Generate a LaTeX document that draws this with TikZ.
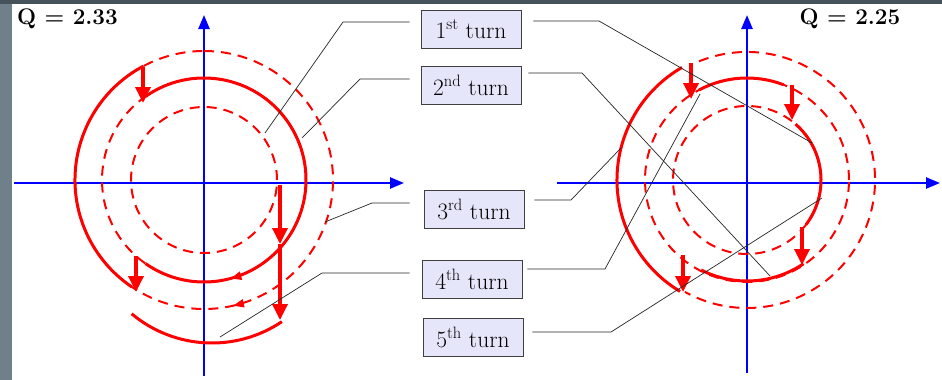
\documentclass[tikz,border=0pt]{standalone}
\usetikzlibrary{arrows.meta,decorations.markings}

\definecolor{orbitred}{RGB}{255,0,0}
\definecolor{axisblue}{RGB}{0,0,255}
\definecolor{boxfill}{RGB}{230,230,250}
\definecolor{frameslate}{RGB}{112,128,138}
\definecolor{framedark}{RGB}{70,82,90}

\begin{document}
\begin{tikzpicture}[x=1pt,y=-1pt,
  axis/.style={axisblue, line width=2.5pt, -{Triangle[length=14pt,width=11pt]}},
  orbit/.style={orbitred, line width=3pt},
  ghost/.style={orbitred, line width=2pt, dash pattern=on 10pt off 7pt},
  kick/.style={orbitred, line width=3.5pt, -{Triangle[length=16pt,width=15pt]}},
  turnbox/.style={draw=black!75, fill=boxfill, line width=0.8pt, minimum width=100pt,
    minimum height=38pt, inner sep=0pt, font=\rmfamily\fontsize{23.5}{25}\selectfont},
  leader/.style={black!85, line width=0.7pt},
  title/.style={font=\rmfamily\fontsize{22.5}{25}\selectfont\bfseries, inner sep=0pt},
  flowtip/.style={postaction={decorate}, decoration={markings,
    mark=at position #1 with {\arrow[orbitred]{Triangle[length=11pt,width=8pt]}}}}
]
% frame
\fill[white] (0,0) rectangle (942,380);
\fill[frameslate] (0,0) rectangle (12,380);
\fill[framedark] (0,0) rectangle (942,4);
\useasboundingbox (0,0) rectangle (942,380);

% ---------- left phase plane, Q = 2.33 ----------
\coordinate (cL) at (204,180);
\coordinate (lxa) at (14,183);  \coordinate (lxb) at (404,183);
\coordinate (lya) at (204,376); \coordinate (lyb) at (204,15);
\draw[axis] (lxa) -- (lxb);
\draw[axis] (lya) -- (lyb);

\draw[ghost] (cL) circle[radius=73pt];
\draw[ghost] (cL) circle[radius=102pt];
\draw[ghost, flowtip=0.464] (cL) ++(90:129pt) arc[start angle=90, end angle=-270, radius=129pt];

\draw[orbit, flowtip=0.8] (cL) ++(125:102pt) arc[start angle=125, end angle=-125, radius=102pt];
\draw[orbit] (cL) ++(118:129pt) arc[start angle=118, end angle=236, radius=129pt];
\draw[orbit] (212,218) ++(-130:125pt) arc[start angle=-130, end angle=-56, radius=125pt];

\coordinate (k1a) at (143,67);  \coordinate (k1b) at (143,103);
\coordinate (k2a) at (136,256); \coordinate (k2b) at (136,292);
\coordinate (k3a) at (280,185); \coordinate (k3b) at (280,244);
\coordinate (k3c) at (280,320);
\draw[kick] (k1a) -- (k1b);
\draw[kick] (k2a) -- (k2b);
\draw[kick] (k3a) -- (k3b);
\draw[kick] (k3b) -- (k3c);

% ---------- right phase plane, Q = 2.25 ----------
\coordinate (cR) at (747,180);
\coordinate (rxa) at (557,183); \coordinate (rxb) at (940,183);
\coordinate (rya) at (747,373); \coordinate (ryb) at (747,15);
\draw[axis] (rxa) -- (rxb);
\draw[axis] (rya) -- (ryb);

\draw[ghost] (cR) circle[radius=74pt];
\draw[ghost] (cR) circle[radius=102pt];
\draw[ghost] (cR) ++(112:128pt) arc[start angle=112, end angle=-119, radius=128pt];

\draw[orbit] (cR) ++(120:130pt) arc[start angle=120, end angle=239, radius=130pt];
\draw[orbit] (cR) ++(118:102pt) arc[start angle=118, end angle=69, radius=102pt];
\draw[orbit] (cR) ++(49:74pt) arc[start angle=49, end angle=-37, radius=74pt];
\draw[orbit] (cR) ++(-56:101pt) arc[start angle=-56, end angle=-117, radius=101pt];

\coordinate (m1a) at (691,63);  \coordinate (m1b) at (691,99);
\coordinate (m2a) at (792,85);  \coordinate (m2b) at (792,120);
\coordinate (m3a) at (802,227); \coordinate (m3b) at (802,265);
\coordinate (m4a) at (683,255); \coordinate (m4b) at (683,292);
\draw[kick] (m1a) -- (m1b);
\draw[kick] (m2a) -- (m2b);
\draw[kick] (m3a) -- (m3b);
\draw[kick] (m4a) -- (m4b);

% ---------- titles ----------
\node[title, anchor=west] (qL) at (17,19) {Q = 2.33};
\node[title] (qR) at (850,19) {Q = 2.25};

% ---------- turn labels ----------
\node[turnbox] (b1) at (471,29)   {1\textsuperscript{st} turn};
\node[turnbox] (b2) at (471,85.5) {2\textsuperscript{nd} turn};
\node[turnbox] (b3) at (474,209)  {3\textsuperscript{rd} turn};
\node[turnbox] (b4) at (472,279.5){4\textsuperscript{th} turn};
\node[turnbox] (b5) at (473,337.5){5\textsuperscript{th} turn};

% leader targets on the orbits
\coordinate (p1L) at (265,133);
\coordinate (p2L) at (302,138);
\coordinate (p3L) at (325,222);
\coordinate (p4L) at (220,337);
\coordinate (p1R) at (812,143);
\coordinate (p2R) at (770,276);
\coordinate (p3R) at (621,148);
\coordinate (p4R) at (700,94);
\coordinate (p5R) at (822,198);

\draw[leader] ([xshift=-11pt,yshift=7pt]b1.west)   -- (343,22)  -- (p1L);
\draw[leader] ([xshift=-11pt,yshift=6.5pt]b2.west) -- (360,79)  -- (p2L);
\draw[leader] ([xshift=-14pt,yshift=6pt]b3.west)   -- (372,203) -- (p3L);
\draw[leader] ([xshift=-12pt,yshift=6.5pt]b4.west) -- (322,273) -- (p4L);

\draw[leader] ([xshift=12pt,yshift=8pt]b1.east)    -- (599,21)  -- (p1R);
\draw[leader] ([xshift=7pt,yshift=12.5pt]b2.east)  -- (582,73)  -- (p2R);
\draw[leader] ([xshift=10pt,yshift=9pt]b3.east)    -- (571,200) -- (p3R);
\draw[leader] ([xshift=5pt,yshift=10.5pt]b4.east)  -- (605,269) -- (p4R);
\draw[leader] ([xshift=9pt,yshift=5.5pt]b5.east)   -- (611,332) -- (p5R);
\end{tikzpicture}
\end{document}
